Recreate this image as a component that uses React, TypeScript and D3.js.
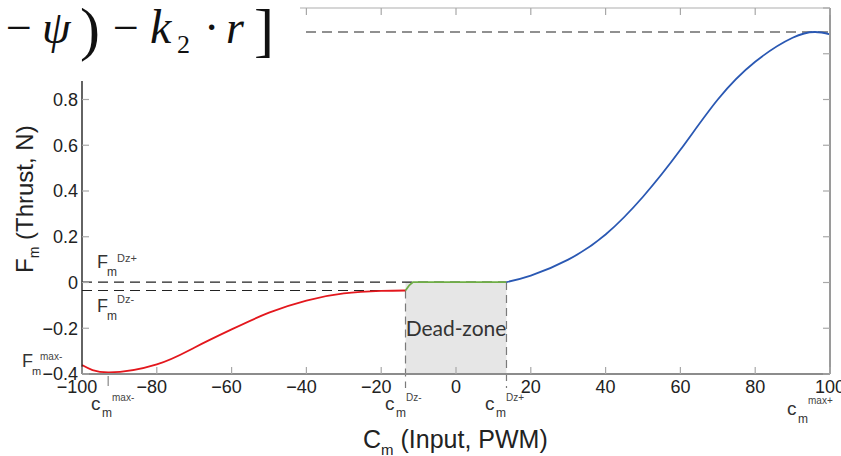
import React from "react";
import * as d3 from "d3";

// Motor thrust characteristic: negative branch, dead-zone, positive branch
const negInput = [-100, -93, -80, -70, -60, -50, -40, -30, -20, -13.5];
const negThrust = [-0.361, -0.393, -0.358, -0.285, -0.205, -0.132, -0.079, -0.048, -0.037, -0.035];

const dzInput = [-13.5, -12.5, -11.5, 13.5];
const dzThrust = [-0.035, -0.012, 0.002, 0.002];

const posInput = [13.5, 20, 30, 40, 50, 60, 70, 80, 90, 96, 100];
const posThrust = [0.002, 0.03, 0.1, 0.21, 0.375, 0.58, 0.8, 0.965, 1.07, 1.095, 1.085];

// Characteristic levels
const cmDzMinus = -13.5;
const cmDzPlus = 13.5;
const cmMaxMinus = -93;
const fDzPlus = 0.002;
const fDzMinus = -0.035;
const fMaxPlus = 1.095;

const xTicks = [-100, -80, -60, -40, -20, 0, 20, 40, 60, 80, 100];
const yTicks = [-0.4, -0.2, 0, 0.2, 0.4, 0.6, 0.8, 1.0, 1.2];

const W = 841;
const H = 456;
const sans = "'Liberation Sans', Arial, Helvetica, sans-serif";
const serif = "'Liberation Serif', 'DejaVu Serif', serif";

function fmtNum(v: number): string {
  const s = Math.abs(v) < 1e-9 ? "0" : d3.format("~g")(Math.round(v * 10) / 10);
  return s.replace("-", "\u2212");
}

type SymProps = {
  x: number;
  y: number;
  base: string;
  sub: string;
  sup: string;
  size: number;
  subDx: number;
  subDy: number;
  supDx: number;
  supDy: number;
  subSize: number;
  supSize: number;
};

function Sym(p: SymProps) {
  return (
    <g fill="#333" fontFamily={sans}>
      <text x={p.x} y={p.y} fontSize={p.size}>{p.base}</text>
      <text x={p.x + p.subDx} y={p.y + p.subDy} fontSize={p.subSize}>{p.sub}</text>
      <text x={p.x + p.supDx} y={p.y + p.supDy} fontSize={p.supSize} fill="#444">{p.sup}</text>
    </g>
  );
}

export default function App() {
  const x = d3.scaleLinear().domain([-100, 100]).range([82, 830]);
  const y = d3.scaleLinear().domain([-0.4, 1.2]).range([374, 8]);

  const line = d3
    .line<[number, number]>()
    .x((d) => x(d[0]))
    .y((d) => y(d[1]))
    .curve(d3.curveNatural);
  const straight = d3
    .line<[number, number]>()
    .x((d) => x(d[0]))
    .y((d) => y(d[1]));

  const negPts = negInput.map((v, i) => [v, negThrust[i]] as [number, number]);
  const dzPts = dzInput.map((v, i) => [v, dzThrust[i]] as [number, number]);
  const posPts = posInput.map((v, i) => [v, posThrust[i]] as [number, number]);

  const [x0, x1] = x.range();
  const [yb, yt] = y.range();
  const tickLen = 7;

  return (
    <div style={{ position: "absolute", left: 0, top: 0, background: "#fff" }}>
      <svg width={W} height={H} style={{ display: "block" }}>
        <rect x={0} y={0} width={W} height={H} fill="#fff" />

        {/* dead-zone band */}
        <rect
          x={x(cmDzMinus)}
          y={y(fDzPlus)}
          width={x(cmDzPlus) - x(cmDzMinus)}
          height={yb - y(fDzPlus)}
          fill="#e6e6e6"
        />

        {/* reference levels */}
        <g stroke="#222" strokeWidth={1.2} strokeDasharray="10,6" fill="none">
          <line x1={x0} x2={x1} y1={y(fMaxPlus)} y2={y(fMaxPlus)} />
          <line x1={x0} x2={x(cmDzPlus)} y1={y(fDzPlus)} y2={y(fDzPlus)} />
          <line x1={x0} x2={x(cmDzMinus)} y1={y(fDzMinus)} y2={y(fDzMinus)} />
        </g>
        <g stroke="#7a7a7a" strokeWidth={1.2} strokeDasharray="8,5" fill="none">
          <line x1={x(cmDzMinus)} x2={x(cmDzMinus)} y1={y(fDzMinus)} y2={yb + 14} />
          <line x1={x(cmDzPlus)} x2={x(cmDzPlus)} y1={y(fDzPlus)} y2={yb + 14} />
        </g>
        <line x1={x(cmMaxMinus)} x2={x(cmMaxMinus)} y1={yb + 2} y2={yb + 12} stroke="#888" strokeWidth={1.2} />

        {/* curves */}
        <path d={line(negPts) || ""} fill="none" stroke="#e3171d" strokeWidth={1.8} />
        <path d={straight(dzPts) || ""} fill="none" stroke="#6fae46" strokeWidth={1.8} />
        <path d={line(posPts) || ""} fill="none" stroke="#2a58b3" strokeWidth={1.8} />

        <text x={x(0)} y={336} textAnchor="middle" fontFamily="Lato, 'Open Sans', sans-serif" fontSize={21} fill="#333">
          Dead-zone
        </text>

        {/* axes box */}
        <line x1={x0} x2={x1} y1={yt} y2={yt} stroke="#c8c8c8" strokeWidth={1.5} />
        <line x1={x1} x2={x1} y1={yt} y2={yb} stroke="#9a9a9a" strokeWidth={2} />
        <line x1={x0} x2={x1} y1={yb} y2={yb} stroke="#8c8c8c" strokeWidth={2} />
        <line x1={x0} x2={x0} y1={yt} y2={yb} stroke="#222" strokeWidth={1.4} />

        {/* ticks */}
        <g stroke="#a8a8a8" strokeWidth={1.2}>
          {xTicks.map((t) => (
            <g key={"xt" + t}>
              <line x1={x(t)} x2={x(t)} y1={yb} y2={yb - tickLen} />
              <line x1={x(t)} x2={x(t)} y1={yt} y2={yt + tickLen} />
            </g>
          ))}
          {yTicks.map((t) => (
            <g key={"yt" + t}>
              <line x1={x0} x2={x0 + tickLen} y1={y(t)} y2={y(t)} />
              <line x1={x1} x2={x1 - tickLen} y1={y(t)} y2={y(t)} />
            </g>
          ))}
        </g>
        <g fontFamily={sans} fontSize={18} fill="#222">
          {xTicks.map((t) => (
            <text key={"xl" + t} x={x(t) + (t < 0 ? -5 : 0)} y={393} textAnchor="middle">
              {fmtNum(t)}
            </text>
          ))}
          {yTicks.map((t) => (
            <text key={"yl" + t} x={78} y={y(t)} dy="0.35em" textAnchor="end">
              {fmtNum(t)}
            </text>
          ))}
        </g>

        {/* axis titles */}
        <text x={363} y={448} fontFamily={sans} fontSize={25} fill="#222">
          C<tspan fontSize={15} dy={7}>m</tspan>
          <tspan dy={-7}> (Input, PWM)</tspan>
        </text>
        <text transform="translate(33,273) rotate(-90)" fontFamily={sans} fontSize={24} fill="#222">
          F<tspan fontSize={14} dy={6}>m</tspan>
          <tspan dy={-6}> (Thrust, N)</tspan>
        </text>

        {/* level annotations */}
        <Sym x={97} y={268} base="F" sub="m" sup="Dz+" size={18} subDx={10} subDy={8} supDx={20} supDy={-6} subSize={12} supSize={11} />
        <Sym x={97} y={312} base="F" sub="m" sup="Dz-" size={18} subDx={10} subDy={8} supDx={20} supDy={-9} subSize={12} supSize={11} />
        <Sym x={22} y={367} base="F" sub="m" sup="max-" size={18} subDx={10} subDy={8} supDx={18} supDy={-7} subSize={11} supSize={10} />
        <Sym x={91} y={410} base="c" sub="m" sup="max-" size={19} subDx={11} subDy={7} supDx={21} supDy={-9} subSize={12} supSize={10} />
        <Sym x={385} y={410} base="c" sub="m" sup="Dz-" size={19} subDx={11} subDy={7} supDx={21} supDy={-9} subSize={12} supSize={10} />
        <Sym x={485} y={410} base="c" sub="m" sup="Dz+" size={19} subDx={11} subDy={7} supDx={21} supDy={-9} subSize={12} supSize={10} />
        <Sym x={787} y={415} base="c" sub="m" sup="max+" size={19} subDx={11} subDy={8} supDx={21} supDy={-11} subSize={12} supSize={10} />

        {/* control-law fragment */}
        <rect x={0} y={0} width={300} height={81} fill="#fff" />
        <g fontFamily={serif} fill="#111">
          <text x={6} y={43} fontSize={46}>{"\u2212"}</text>
          <text x={42} y={43} fontSize={46} fontStyle="italic">{"\u03c8"}</text>
          <text x={80} y={49} fontSize={60}>)</text>
          <text x={113} y={43} fontSize={46}>{"\u2212"}</text>
          <text x={150} y={43} fontSize={48} fontStyle="italic">k</text>
          <text x={177} y={53} fontSize={26}>2</text>
          <text x={204} y={43} fontSize={46}>{"\u00b7"}</text>
          <text x={226} y={43} fontSize={46} fontStyle="italic">r</text>
          <text x={254} y={50} fontSize={60}>]</text>
        </g>
      </svg>
    </div>
  );
}
